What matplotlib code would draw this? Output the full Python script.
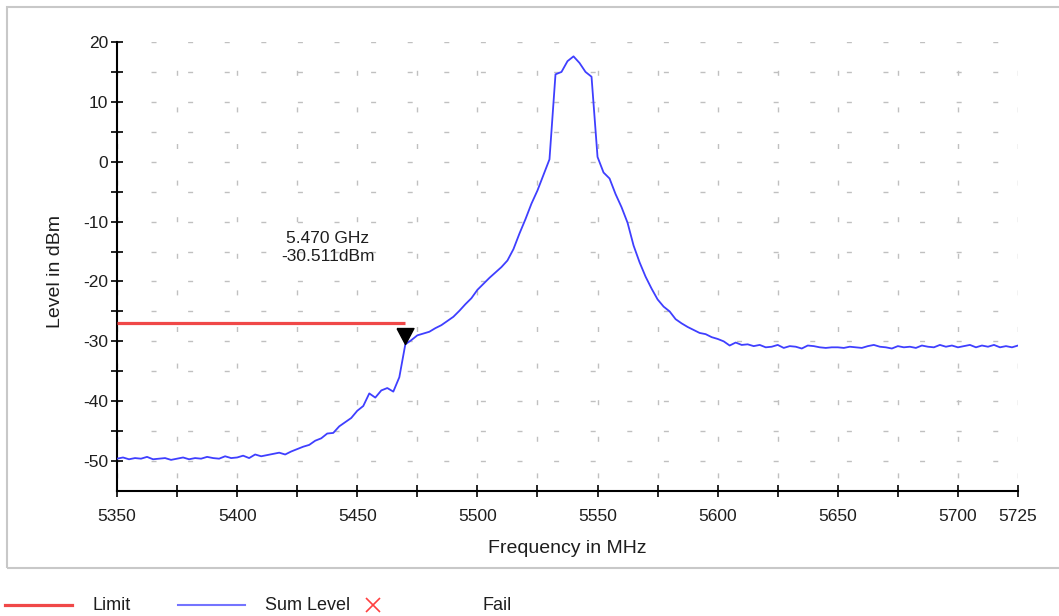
import numpy as np
import matplotlib
matplotlib.use('Agg')
import matplotlib.pyplot as plt
from matplotlib.lines import Line2D
from matplotlib.patches import Rectangle

plt.rcParams['font.family'] = ['Liberation Sans', 'DejaVu Sans']
plt.rcParams['axes.unicode_minus'] = False

# Sum Level trace, one value every 2.5 MHz from 5350 to 5725 MHz (dBm)
level = [
    -49.6, -49.4, -49.7, -49.5, -49.6, -49.3, -49.7, -49.6, -49.5, -49.8,
    -49.6, -49.4, -49.7, -49.5, -49.6, -49.3, -49.5, -49.6, -49.2, -49.5,
    -49.4, -49.1, -49.5, -48.9, -49.2, -49.0, -48.8, -48.6, -48.9, -48.4,
    -48.0, -47.6, -47.3, -46.6, -46.2, -45.4, -45.3, -44.2, -43.5, -42.8,
    -41.6, -40.8, -38.7, -39.4, -38.2, -37.8, -38.4, -36.0, -30.5, -29.8,
    -29.0, -28.7, -28.4, -27.8, -27.3, -26.6, -25.9, -24.9, -23.8, -22.8,
    -21.4, -20.4, -19.4, -18.5, -17.6, -16.5, -14.6, -12.0, -9.6, -7.0,
    -4.8, -2.2, 0.4, 14.6, 15.0, 16.8, 17.6, 16.5, 15.0, 14.2,
    0.8, -1.8, -2.8, -5.4, -7.6, -10.2, -14.0, -16.8, -19.2, -21.2,
    -23.0, -24.2, -25.0, -26.3, -27.0, -27.6, -28.1, -28.6, -28.8, -29.3,
    -29.6, -30.0, -30.7, -30.2, -30.6, -30.5, -30.8, -30.6, -31.0, -30.9,
    -30.6, -31.1, -30.8, -30.9, -31.2, -30.7, -30.8, -31.0, -31.1, -31.0,
    -31.0, -31.1, -30.9, -31.0, -31.1, -30.8, -30.6, -30.9, -31.0, -31.2,
    -30.8, -31.0, -30.9, -31.1, -30.7, -30.9, -31.0, -30.6, -30.9, -30.7,
    -31.0, -30.8, -30.6, -31.0, -30.7, -30.9, -30.6, -31.0, -30.8, -31.0,
    -30.7,
]
freq = 5350 + 2.5 * np.arange(len(level))

limit_freq = [5350, 5470]
limit_level = [-27, -27]

marker_freq = 5470
marker_level = -30.511
marker_text = '5.470 GHz\n-30.511dBm'

xticks_major = [5350, 5400, 5450, 5500, 5550, 5600, 5650, 5700, 5725]
xticks_minor = [5375, 5425, 5475, 5525, 5575, 5625, 5675]

W, H = 1059, 616
fig = plt.figure(figsize=(W / 100, H / 100), dpi=100)
ax = fig.add_axes([117 / W, 1 - 491 / H, 901 / W, 449 / H])

txt = '#1e1e1e'
grid_c = '#c0c0c0'

ax.plot(freq, level, color='#3f3fff', lw=1.3, zorder=3)
ax.plot(limit_freq, limit_level, color='#f04848', lw=2.3, solid_capstyle='butt', zorder=4)
tri = [(-0.53, 1), (0.53, 1), (0, 0), (-0.53, 1)]
ax.plot([marker_freq], [marker_level], marker=tri, ms=23, color='black', ls='none', zorder=5)
ax.annotate(marker_text, xy=(marker_freq, marker_level), xytext=(-56, 70),
            textcoords='offset points', ha='center', va='center', fontsize=12.5,
            color=txt, linespacing=1.25)

ax.set_xlim(5350, 5725)
ax.set_ylim(-55, 20)
ax.set_xticks(xticks_major)
ax.set_xticks(xticks_minor, minor=True)
ax.set_yticks(range(-50, 21, 10))
ax.set_yticks(range(-45, 20, 10), minor=True)

ax.xaxis.grid(True, which='both', color=grid_c, lw=1, linestyle=(16.9, (3.6, 22.75)))
ax.yaxis.grid(True, which='both', color=grid_c, lw=1, linestyle=(1.85, (3.6, 22.75)))
ax.set_axisbelow(True)

for s in ['top', 'right']:
    ax.spines[s].set_visible(False)
for s in ['left', 'bottom']:
    ax.spines[s].set_linewidth(1.5)
    ax.spines[s].set_color('black')

ax.tick_params(which='both', direction='inout', length=8, width=1.2, colors='black',
               labelcolor=txt, labelsize=12.5)
ax.tick_params(axis='x', which='both', pad=9)
ax.tick_params(axis='y', which='both', pad=2.5)

ax.set_xlabel('Frequency in MHz', fontsize=14, color=txt, va='center')
ax.xaxis.set_label_coords(0.5, -(548.5 - 491) / 449)
ax.set_ylabel('Level in dBm', fontsize=14, color=txt, va='center')
ax.yaxis.set_label_coords((55 - 117) / 901, (491 - 271) / 449)

# outer frame (open on the right)
fig.add_artist(Rectangle((7 / W, 1 - 568 / H), 1.2, (568 - 7) / H,
                         transform=fig.transFigure, fill=False,
                         edgecolor='#c8c8c8', lw=1.5))

# legend row under the frame
ly = 1 - 605 / H
fig.add_artist(Line2D([5 / W, 72 / W], [ly, ly], transform=fig.transFigure,
                      color='#f04848', lw=2.3))
fig.text(93 / W, ly, 'Limit', fontsize=13, color=txt, va='center')
fig.add_artist(Line2D([178 / W, 245 / W], [ly, ly], transform=fig.transFigure,
                      color='#7474ff', lw=1.5))
fig.text(265 / W, ly, 'Sum Level', fontsize=13, color=txt, va='center')
fig.add_artist(Line2D([373 / W], [ly], transform=fig.transFigure, marker='x',
                      ms=10, mew=1.2, color='#ff4040', ls='none'))
fig.text(483 / W, ly, 'Fail', fontsize=13, color=txt, va='center')

fig.savefig('out.png', dpi=100)
